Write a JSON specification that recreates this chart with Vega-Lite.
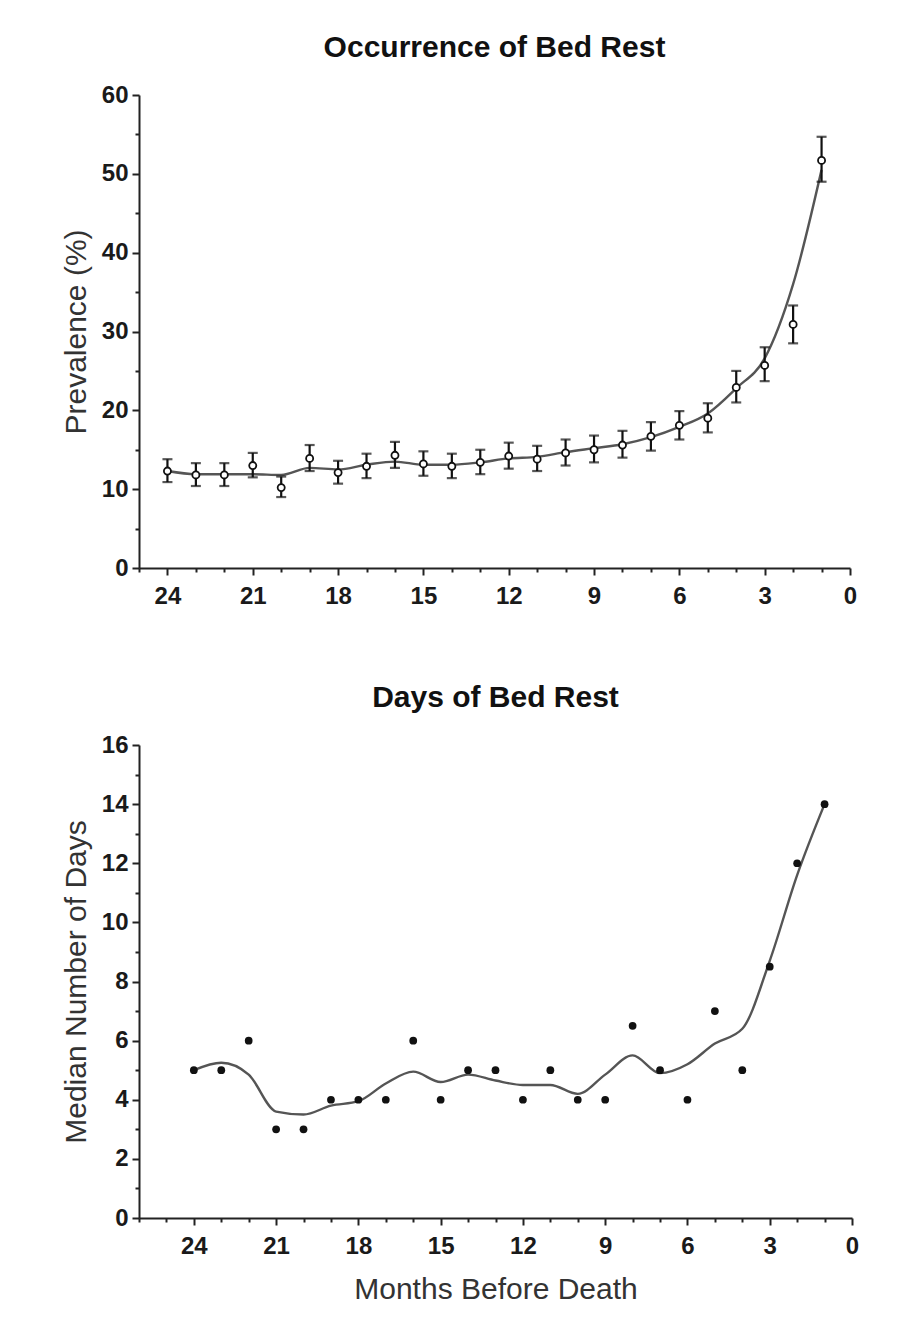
{
  "$schema": "https://vega.github.io/schema/vega-lite/v6.json",
  "background": "white",
  "padding": {"left": 61, "top": 33, "right": 10, "bottom": 5},
  "spacing": 75,
  "config": {
    "view": {"stroke": null},
    "font": "Liberation Sans",
    "axis": {
      "grid": false,
      "domainColor": "#222",
      "domainWidth": 2,
      "tickColor": "#222",
      "tickWidth": 2,
      "labelColor": "#1a1a1a",
      "labelFont": "Liberation Sans",
      "labelFontWeight": "bold",
      "labelFontSize": 24,
      "titleFont": "Liberation Sans",
      "titleFontWeight": "normal",
      "titleFontSize": 30,
      "titleColor": "#333"
    },
    "title": {"font": "Liberation Sans", "fontSize": 30, "fontWeight": "bold", "color": "#111", "anchor": "middle", "frame": "group"}
  },
  "datasets": {
    "occ": [
      {"month": 24, "prev": 12.3, "lo": 10.9, "hi": 13.8, "fit": 12.3},
      {"month": 23, "prev": 11.8, "lo": 10.4, "hi": 13.3, "fit": 11.9},
      {"month": 22, "prev": 11.8, "lo": 10.4, "hi": 13.3, "fit": 11.9},
      {"month": 21, "prev": 13.0, "lo": 11.5, "hi": 14.6, "fit": 11.9},
      {"month": 20, "prev": 10.2, "lo": 9.0, "hi": 11.6, "fit": 11.8},
      {"month": 19, "prev": 13.9, "lo": 12.3, "hi": 15.6, "fit": 12.7},
      {"month": 18, "prev": 12.1, "lo": 10.7, "hi": 13.6, "fit": 12.5},
      {"month": 17, "prev": 12.9, "lo": 11.4, "hi": 14.5, "fit": 13.1},
      {"month": 16, "prev": 14.3, "lo": 12.7, "hi": 16.0, "fit": 13.5},
      {"month": 15, "prev": 13.2, "lo": 11.7, "hi": 14.8, "fit": 13.1},
      {"month": 14, "prev": 12.9, "lo": 11.4, "hi": 14.5, "fit": 13.1},
      {"month": 13, "prev": 13.4, "lo": 11.9, "hi": 15.0, "fit": 13.4},
      {"month": 12, "prev": 14.2, "lo": 12.6, "hi": 15.9, "fit": 13.9},
      {"month": 11, "prev": 13.8, "lo": 12.3, "hi": 15.5, "fit": 14.1},
      {"month": 10, "prev": 14.6, "lo": 13.0, "hi": 16.3, "fit": 14.7},
      {"month": 9, "prev": 15.0, "lo": 13.4, "hi": 16.8, "fit": 15.2},
      {"month": 8, "prev": 15.6, "lo": 14.0, "hi": 17.4, "fit": 15.7},
      {"month": 7, "prev": 16.7, "lo": 14.9, "hi": 18.5, "fit": 16.6},
      {"month": 6, "prev": 18.1, "lo": 16.3, "hi": 19.9, "fit": 17.9},
      {"month": 5, "prev": 19.0, "lo": 17.2, "hi": 20.9, "fit": 19.6},
      {"month": 4, "prev": 22.9, "lo": 21.0, "hi": 25.0, "fit": 22.8},
      {"month": 3, "prev": 25.7, "lo": 23.7, "hi": 28.0, "fit": 26.6},
      {"month": 2, "prev": 30.9, "lo": 28.5, "hi": 33.3, "fit": 36.0},
      {"month": 1, "prev": 51.7, "lo": 49.0, "hi": 54.7, "fit": 50.5}
    ],
    "days": [
      {"month": 24, "days": 5, "fit": 5.0},
      {"month": 23, "days": 5, "fit": 5.25},
      {"month": 22, "days": 6, "fit": 4.85},
      {"month": 21, "days": 3, "fit": 3.6},
      {"month": 20, "days": 3, "fit": 3.5},
      {"month": 19, "days": 4, "fit": 3.8},
      {"month": 18, "days": 4, "fit": 3.95},
      {"month": 17, "days": 4, "fit": 4.55},
      {"month": 16, "days": 6, "fit": 4.95},
      {"month": 15, "days": 4, "fit": 4.6},
      {"month": 14, "days": 5, "fit": 4.85},
      {"month": 13, "days": 5, "fit": 4.65},
      {"month": 12, "days": 4, "fit": 4.5},
      {"month": 11, "days": 5, "fit": 4.5},
      {"month": 10, "days": 4, "fit": 4.2},
      {"month": 9, "days": 4, "fit": 4.85},
      {"month": 8, "days": 6.5, "fit": 5.5},
      {"month": 7, "days": 5, "fit": 4.9},
      {"month": 6, "days": 4, "fit": 5.2},
      {"month": 5, "days": 7, "fit": 5.9},
      {"month": 4, "days": 5, "fit": 6.4},
      {"month": 3, "days": 8.5, "fit": 8.7},
      {"month": 2, "days": 12, "fit": 11.6},
      {"month": 1, "days": 14, "fit": 14.0}
    ]
  },
  "vconcat": [
    {
      "width": 711,
      "height": 473,
      "title": {"text": "Occurrence of Bed Rest", "offset": 20},
      "data": {"name": "occ"},
      "layer": [
        {
          "mark": {"type": "line", "interpolate": "monotone", "color": "#555", "strokeWidth": 2.4},
          "encoding": {
            "x": {"field": "month", "type": "quantitative",
                  "scale": {"domain": [0, 25], "reverse": true, "nice": false, "zero": false},
                  "axis": {"orient": "bottom", "values": [24, 21, 18, 15, 12, 9, 6, 3, 0], "title": null, "tickSize": 7, "labelPadding": 9, "labelFlush": false}},
            "y": {"field": "fit", "type": "quantitative",
                  "scale": {"domain": [0, 60], "nice": false},
                  "axis": {"orient": "left", "values": [0, 10, 20, 30, 40, 50, 60], "title": "Prevalence (%)", "tickSize": 7, "labelPadding": 4, "titlePadding": 10}}
          }
        },
        {
          "mark": {"type": "errorbar", "color": "#111", "thickness": 2.2, "ticks": {"size": 10, "thickness": 2.2, "color": "#111"}},
          "encoding": {
            "x": {"field": "month", "type": "quantitative", "axis": null},
            "y": {"field": "lo", "type": "quantitative", "axis": null},
            "y2": {"field": "hi"}
          }
        },
        {
          "mark": {"type": "point", "shape": "circle", "filled": false, "fill": "white", "stroke": "#111", "strokeWidth": 1.8, "size": 50, "opacity": 1},
          "encoding": {
            "x": {"field": "month", "type": "quantitative",
                  "axis": {"orient": "bottom", "values": [25, 23, 22, 20, 19, 17, 16, 14, 13, 11, 10, 8, 7, 5, 4, 2, 1], "labels": false, "domain": false, "tickSize": 4, "title": null}},
            "y": {"field": "prev", "type": "quantitative",
                  "axis": {"orient": "left", "values": [5, 15, 25, 35, 45, 55], "labels": false, "domain": false, "tickSize": 4, "title": null}}
          }
        }
      ],
      "resolve": {"axis": {"x": "independent", "y": "independent"}}
    },
    {
      "width": 713,
      "height": 473,
      "title": {"text": "Days of Bed Rest", "offset": 20},
      "data": {"name": "days"},
      "layer": [
        {
          "mark": {"type": "line", "interpolate": "monotone", "color": "#555", "strokeWidth": 2.4},
          "encoding": {
            "x": {"field": "month", "type": "quantitative",
                  "scale": {"domain": [0, 26], "reverse": true, "nice": false, "zero": false},
                  "axis": {"orient": "bottom", "values": [24, 21, 18, 15, 12, 9, 6, 3, 0], "title": "Months Before Death", "tickSize": 7, "labelPadding": 9, "titlePadding": 16, "labelFlush": false}},
            "y": {"field": "fit", "type": "quantitative",
                  "scale": {"domain": [0, 16], "nice": false},
                  "axis": {"orient": "left", "values": [0, 2, 4, 6, 8, 10, 12, 14, 16], "title": "Median Number of Days", "tickSize": 7, "labelPadding": 4, "titlePadding": 10}}
          }
        },
        {
          "mark": {"type": "point", "shape": "circle", "filled": true, "color": "#111", "size": 60, "opacity": 1},
          "encoding": {
            "x": {"field": "month", "type": "quantitative",
                  "axis": {"orient": "bottom", "values": [26, 25, 23, 22, 20, 19, 17, 16, 14, 13, 11, 10, 8, 7, 5, 4, 2, 1], "labels": false, "domain": false, "tickSize": 4, "title": null}},
            "y": {"field": "days", "type": "quantitative",
                  "axis": {"orient": "left", "values": [1, 3, 5, 7, 9, 11, 13, 15], "labels": false, "domain": false, "tickSize": 4, "title": null}}
          }
        }
      ],
      "resolve": {"axis": {"x": "independent", "y": "independent"}}
    }
  ]
}
